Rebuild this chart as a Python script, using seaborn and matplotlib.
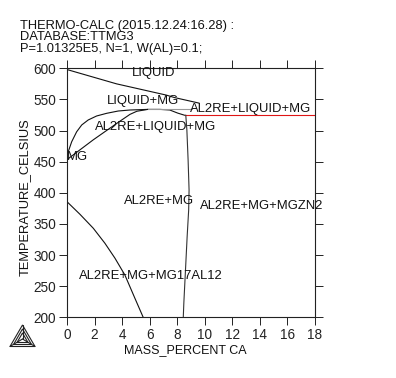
import pandas as pd
import matplotlib.pyplot as plt
import seaborn as sns

# phase boundaries (mass percent Ca, temperature in C)
liquidus_x = [0, 3.6, 7.2, 7.8, 9.6]
liquidus_t = [598, 575, 557, 553, 544]
upper_x = [0, 0.09, 0.34, 0.70, 1.07, 1.54, 2.15, 2.88, 3.72, 4.57, 5.87, 6.74, 7.46, 8.04, 8.55]
upper_t = [453, 466, 482, 498, 509, 517, 523.4, 527.7, 531.4, 533, 534, 534, 533, 528, 524.5]
lower_x = [0, 0.22, 1.9, 3.1, 3.84, 4.57, 5.07, 5.87]
lower_t = [453, 457, 485, 503.6, 515, 526, 531, 534]
tie_x = [5.87, 9.1]
tie_t = [534, 534]
eutectic_x = [8.6, 18]
eutectic_t = [524.5, 524.5]
solvus_x = [8.62, 8.70, 8.79, 8.86, 8.83, 8.72, 8.6, 8.48, 8.44]
solvus_t = [525, 501, 452.7, 404.5, 372, 329.5, 276, 223, 200]
mg17_x = [0, 0.94, 1.91, 2.75, 3.48, 4.2, 4.93, 5.53]
mg17_t = [385.7, 365.5, 343, 319, 295, 268, 230.5, 200]

curves = {
    'liquidus': (liquidus_x, liquidus_t),
    'upper': (upper_x, upper_t),
    'lower': (lower_x, lower_t),
    'tie': (tie_x, tie_t),
    'eutectic': (eutectic_x, eutectic_t),
    'solvus': (solvus_x, solvus_t),
    'mg17': (mg17_x, mg17_t),
}
curve_colors = {'liquidus': '#111111', 'upper': '#111111', 'lower': '#111111', 'tie': '#999999',
                'eutectic': '#e01515', 'solvus': '#333333', 'mg17': '#111111'}

phase_names = ['LIQUID', 'LIQUID+MG', 'AL2RE+LIQUID+MG', 'AL2RE+LIQUID+MG', 'MG',
               'AL2RE+MG', 'AL2RE+MG+MGZN2', 'AL2RE+MG+MG17AL12']
phase_x = [4.71, 2.9, 8.9, 2.03, 0, 4.13, 9.64, 0.87]
phase_t = [593, 548, 534, 505, 458, 387, 378, 267]

header = ['THERMO-CALC (2015.12.24:16.28) :', 'DATABASE:TTMG3', 'P=1.01325E5, N=1, W(AL)=0.1;']

rows = []
for name, (xs, ts) in curves.items():
    for x, t in zip(xs, ts):
        rows.append({'curve': name, 'ca': x, 'temp': t})
df = pd.DataFrame(rows)

sns.set_theme(style='ticks')
plt.rcParams['font.family'] = ['Liberation Sans', 'DejaVu Sans']

fig = plt.figure(figsize=(3.96, 3.78), dpi=100)
ax = fig.add_axes([67 / 396, 1 - 317.3 / 378, 248 / 396, 249 / 378])

sns.lineplot(data=df, x='ca', y='temp', hue='curve', palette=curve_colors, sort=False,
             estimator=None, linewidth=0.8, legend=False, ax=ax)

ax.set_xlim(0, 18)
ax.set_ylim(200, 600)
ax.set_xticks(range(0, 19, 2))
ax.set_yticks(range(200, 601, 50))
ax.tick_params(top=True, right=True, direction='out', length=6, width=0.7,
               labelsize=9.8, pad=2, colors='#222222')
for s in ax.spines.values():
    s.set_linewidth(0.8)
    s.set_color('#222222')
ax.set_xlabel('MASS_PERCENT CA', fontsize=9, color='#111111', labelpad=1, x=0.476)
ax.set_ylabel('TEMPERATURE_CELSIUS', fontsize=9.3, color='#111111', labelpad=2, y=0.482)

for name, x, t in zip(phase_names, phase_x, phase_t):
    ax.text(x, t, name, fontsize=9.4, color='#111111', va='center', ha='left', clip_on=False)

for i, line in enumerate(header):
    fig.text(20 / 396, 1 - (26 + 11.5 * i) / 378, line, fontsize=9.25, color='#111111', va='center')

# Thermo-Calc logo, nested triangles in the lower left corner
def px(x, y):
    return x / 396, 1 - y / 378

for top, left, right in [((22.5, 325), (10, 346.5), (35, 346.5)),
                         ((22.5, 329), (13.5, 344.5), (31.5, 344.5)),
                         ((22.5, 333), (17, 342.5), (28, 342.5))]:
    fig.add_artist(plt.Polygon([px(*top), px(*left), px(*right)], closed=True, fill=False,
                               edgecolor='#222222', linewidth=0.8, transform=fig.transFigure))
for end in [(22.5, 325), (10, 346.5), (35, 346.5)]:
    fig.add_artist(plt.Line2D(*zip(px(*end), px(22.5, 339)), color='#222222', linewidth=0.8,
                              transform=fig.transFigure))

plt.savefig('out.png', dpi=100)
